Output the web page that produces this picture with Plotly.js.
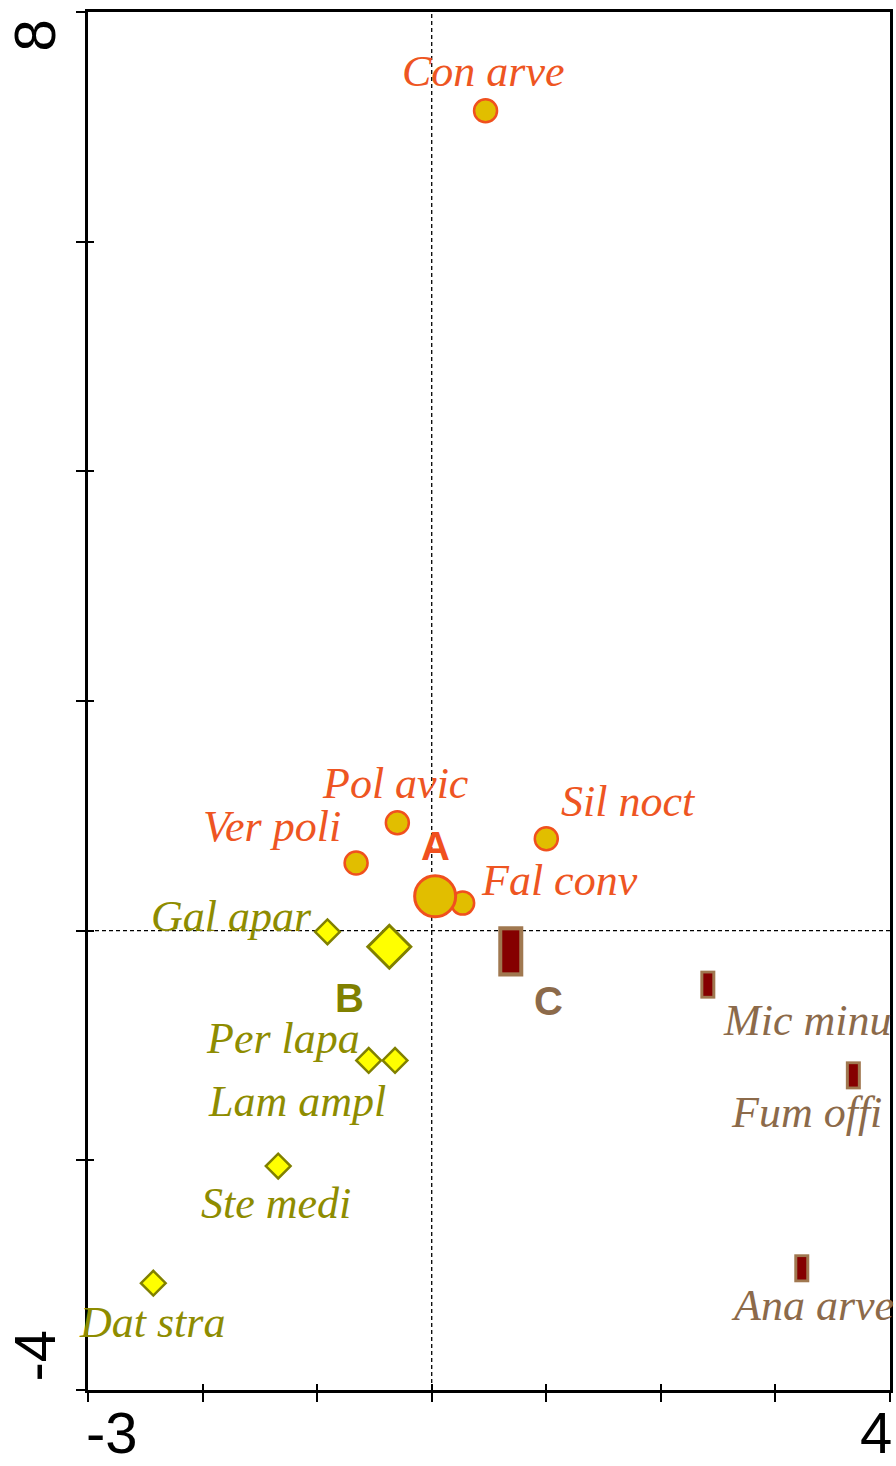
<!DOCTYPE html>
<html>
<head>
<meta charset="utf-8">
<script src="https://cdn.plot.ly/plotly-3.0.1.min.js"></script>
<style>html,body{margin:0;padding:0;background:#fff;}#chart{width:896px;height:1466px;}</style>
</head>
<body>
<div id="chart"></div>
<script>
// ---- data ----
const groupNames = ['A', 'B', 'C'];
const speciesA = ['Con arve', 'Pol avic', 'Ver poli', 'Sil noct', 'Fal conv'];
const speciesAx = [0.47, -0.30, -0.66, 1.00, 0.27];
const speciesAy = [7.14, 0.94, 0.59, 0.80, 0.24];
const speciesB = ['Gal apar', 'Per lapa', 'Lam ampl', 'Ste medi', 'Dat stra'];
const speciesBx = [-0.91, -0.55, -0.32, -1.34, -2.43];
const speciesBy = [-0.01, -1.13, -1.13, -2.05, -3.07];
const speciesC = ['Mic minu', 'Fum offi', 'Ana arve'];
const speciesCx = [2.41, 3.68, 3.23];
const speciesCy = [-0.47, -1.26, -2.94];
const centroidX = [0.03, -0.37, 0.69];
const centroidY = [0.30, -0.14, -0.18];
const xTickVals = [-3, -2, -1, 0, 1, 2, 3, 4];
const yTickVals = [-4, -2, 0, 2, 4, 6, 8];
const xTickLabels = ['-3', '4'];
const yTickLabels = ['8', '-4'];

// ---- styles ----
const colA = {fill: '#E1BE00', edge: '#F0501E', text: '#EE5522'};
const colB = {fill: '#FFFF00', edge: '#808000', text: '#8E8C00'};
const colC = {fill: '#850000', edge: '#A07850', text: '#8C6A4A'};
const labelFont = 'Liberation Serif, Times New Roman, serif';
const boldFont = 'Liberation Sans, Arial, sans-serif';
// label placement: [xanchor, dx px, dy px]
const offA = [['center', -2, -39], ['center', -2, -39], ['right', -13, -36], ['left', 13, -37], ['left', 16, -23]];
const offB = [['right', -13, -15], ['right', -7, -22], ['right', -7, 41], ['center', -2, 37], ['center', -1, 39]];
const offC = [['left', 13, 36], ['right', 31, 37], ['left', -73, 37]];
const offCentroid = [[0, -50], [-40, 51], [38, 50]];
const centroidColors = [colA.edge, colB.edge, colC.text];

const traces = [
  {type: 'scatter', mode: 'markers', x: speciesAx, y: speciesAy, hoverinfo: 'skip',
   marker: {symbol: 'circle', size: 23, color: colA.fill, line: {color: colA.edge, width: 2.5}}},
  {type: 'scatter', mode: 'markers', x: speciesBx, y: speciesBy, hoverinfo: 'skip',
   marker: {symbol: 'diamond', size: 19, color: colB.fill, line: {color: colB.edge, width: 2.5}}},
  {type: 'scatter', mode: 'markers', x: speciesCx, y: speciesCy, hoverinfo: 'skip',
   marker: {symbol: 'line-ns', size: 20, color: colC.edge, line: {color: colC.edge, width: 15}}},
  {type: 'scatter', mode: 'markers', x: speciesCx, y: speciesCy, hoverinfo: 'skip',
   marker: {symbol: 'line-ns', size: 16, color: colC.fill, line: {color: colC.fill, width: 9}}},
  // centroids
  {type: 'scatter', mode: 'markers', x: [centroidX[0]], y: [centroidY[0]], hoverinfo: 'skip',
   marker: {symbol: 'circle', size: 41, color: colA.fill, line: {color: colA.edge, width: 3}}},
  {type: 'scatter', mode: 'markers', x: [centroidX[1]], y: [centroidY[1]], hoverinfo: 'skip',
   marker: {symbol: 'diamond', size: 33, color: colB.fill, line: {color: colB.edge, width: 3}}},
  {type: 'scatter', mode: 'markers', x: [centroidX[2]], y: [centroidY[2]], hoverinfo: 'skip',
   marker: {symbol: 'line-ns', size: 36, color: colC.edge, line: {color: colC.edge, width: 25}}},
  {type: 'scatter', mode: 'markers', x: [centroidX[2]], y: [centroidY[2]], hoverinfo: 'skip',
   marker: {symbol: 'line-ns', size: 30, color: colC.fill, line: {color: colC.fill, width: 17}}},
  // overlay axis for inner half of crossing ticks
  {type: 'scatter', mode: 'markers', x: [], y: [], xaxis: 'x2', yaxis: 'y2', hoverinfo: 'skip'}
];

const annotations = [];
function addLabels(names, xs, ys, offs, color) {
  names.forEach((n, i) => {
    annotations.push({x: xs[i], y: ys[i], xref: 'x', yref: 'y', text: n, showarrow: false,
      xanchor: offs[i][0], yanchor: 'middle', xshift: offs[i][1], yshift: -offs[i][2],
      font: {family: labelFont, size: 44, color: color, style: 'italic'}});
  });
}
addLabels(speciesA, speciesAx, speciesAy, offA, colA.text);
addLabels(speciesB, speciesBx, speciesBy, offB, colB.text);
addLabels(speciesC, speciesCx, speciesCy, offC, colC.text);
groupNames.forEach((g, i) => {
  annotations.push({x: centroidX[i], y: centroidY[i], xref: 'x', yref: 'y', text: '<b>' + g + '</b>',
    showarrow: false, xanchor: 'center', yanchor: 'middle', xshift: offCentroid[i][0], yshift: -offCentroid[i][1],
    font: {family: boldFont, size: 40, color: centroidColors[i]}});
});
// axis end labels
const tickFont = {family: boldFont, size: 58, color: '#000'};
annotations.push({x: xTickVals[0], y: 0, xref: 'x', yref: 'paper', text: xTickLabels[0], showarrow: false,
  xanchor: 'left', yanchor: 'top', xshift: -4, yshift: -8, font: tickFont});
annotations.push({x: xTickVals[xTickVals.length - 1], y: 0, xref: 'x', yref: 'paper', text: xTickLabels[1], showarrow: false,
  xanchor: 'right', yanchor: 'top', xshift: 4, yshift: -8, font: tickFont});
annotations.push({x: 0, y: yTickVals[yTickVals.length - 1], xref: 'paper', yref: 'y', text: yTickLabels[0], showarrow: false,
  xanchor: 'right', yanchor: 'top', xshift: -20, yshift: -6, textangle: -90, font: tickFont});
annotations.push({x: 0, y: yTickVals[0], xref: 'paper', yref: 'y', text: yTickLabels[1], showarrow: false,
  xanchor: 'right', yanchor: 'bottom', xshift: -20, yshift: 6, textangle: -90, font: tickFont});

const axCommon = {showgrid: false, zeroline: false, showticklabels: false, tickmode: 'array', tickcolor: '#000', tickwidth: 2};
const layout = {
  width: 896, height: 1466,
  margin: {l: 88, r: 6, t: 12, b: 76},
  paper_bgcolor: '#fff', plot_bgcolor: '#fff',
  showlegend: false,
  xaxis: Object.assign({}, axCommon, {range: [-3, 4], tickvals: xTickVals, ticks: 'outside', ticklen: 9,
    showline: true, linecolor: '#000', linewidth: 3, mirror: true}),
  yaxis: Object.assign({}, axCommon, {range: [-4, 8], tickvals: yTickVals, ticks: 'outside', ticklen: 9,
    showline: true, linecolor: '#000', linewidth: 3, mirror: true}),
  xaxis2: Object.assign({}, axCommon, {range: [-3, 4], tickvals: xTickVals, ticks: 'inside', ticklen: 6,
    overlaying: 'x', side: 'bottom', anchor: 'y2', showline: false}),
  yaxis2: Object.assign({}, axCommon, {range: [-4, 8], tickvals: yTickVals, ticks: 'inside', ticklen: 6,
    overlaying: 'y', side: 'left', anchor: 'x2', showline: false}),
  shapes: [
    {type: 'line', xref: 'x', yref: 'paper', x0: 0, x1: 0, y0: 0, y1: 1, layer: 'below',
     line: {color: '#000', width: 1.3, dash: '4px,3px'}},
    {type: 'line', xref: 'paper', yref: 'y', x0: 0, x1: 1, y0: 0, y1: 0, layer: 'below',
     line: {color: '#000', width: 1.3, dash: '4px,3px'}}
  ],
  annotations: annotations
};
Plotly.newPlot('chart', traces, layout, {displayModeBar: false, staticPlot: true});
</script>
</body>
</html>
